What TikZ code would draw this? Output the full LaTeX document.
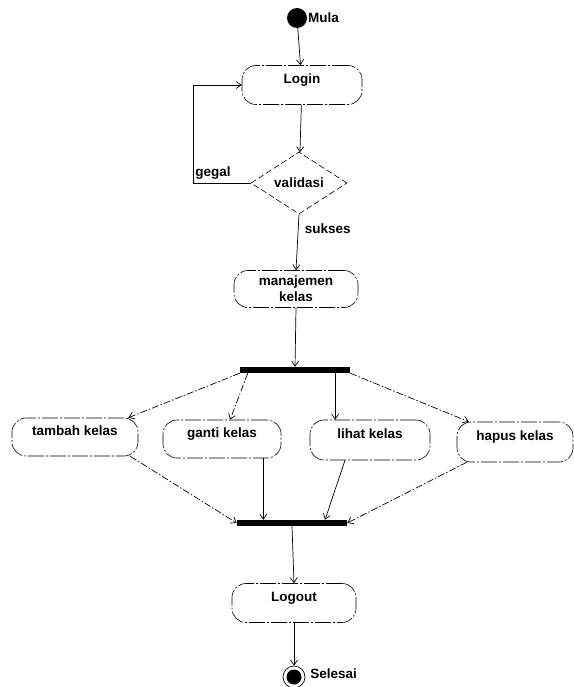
\documentclass[tikz,border=0pt]{standalone}
\usepackage{fontspec}
\setmainfont{Liberation Sans}
\usetikzlibrary{shapes.geometric,arrows.meta}
\tikzset{
  state/.style={draw, rounded corners=14pt, inner sep=0.75pt, line width=0.6pt,
    dash pattern=on 16pt off 2pt on 2pt off 2pt, align=center,
    font=\fontsize{13.5}{16}\selectfont\bfseries},
  uptext/.style={text depth=13pt},
  bar/.style={fill=black, draw=none, inner sep=0pt},
  arr/.style={-{Straight Barb[length=5pt,width=7pt]}, line width=0.7pt},
  darr/.style={arr, dash pattern=on 7pt off 2pt on 1.5pt off 2pt},
  lbl/.style={inner sep=0.75pt, font=\fontsize{13.5}{16}\selectfont\bfseries},
}
\begin{document}
\begin{tikzpicture}[x=1pt,y=-1pt]
\useasboundingbox (0,0) rectangle (573,687);

% Start and end
\node[circle, fill=black, minimum size=20pt, inner sep=0pt] (mula) at (297,18) {};
\node[lbl, anchor=west] (mulatxt) at (mula.east) {Mula};

% States
\node[state, uptext, minimum width=120pt, minimum height=39pt] (login) at (302,85) {Login};
\node[draw, diamond, minimum width=96pt, minimum height=62pt, inner sep=0pt, line width=0.6pt,
  dash pattern=on 6pt off 3pt, font=\fontsize{13.5}{16}\selectfont\bfseries] (validasi) at (299,183) {validasi};
\node[state, minimum width=124pt, minimum height=37pt] (manajemen) at (296,289) {manajemen\\kelas};

% Fork bar
\node[bar, minimum width=110pt, minimum height=6pt] (fork) at (295,370) {};

\node[state, uptext, minimum width=126pt, minimum height=38pt] (tambah) at (75,437) {tambah kelas};
\node[state, uptext, minimum width=118pt, minimum height=38pt] (ganti) at (222,439) {ganti kelas};
\node[state, uptext, minimum width=120pt, minimum height=40pt] (lihat) at (370,440) {lihat kelas};
\node[state, uptext, minimum width=116pt, minimum height=40pt] (hapus) at (515,442) {hapus kelas};

% Join bar
\node[bar, minimum width=110pt, minimum height=6pt] (join) at (292,523) {};

\node[state, uptext, minimum width=124pt, minimum height=39pt] (logout) at (294,603) {Logout};

\node[circle, draw, minimum size=22pt, inner sep=0pt, line width=0.7pt] (selesai) at (294,677) {};
\fill (selesai.center) circle (7.5pt);
\node[lbl, anchor=west] (selesaitxt) at ([xshift=4pt,yshift=3pt]selesai.east) {Selesai};

% Connectors
\draw[arr] (mula) -- (login);
\draw[arr] (login) -- (validasi);
\coordinate (gegalturn) at (193,183);
\draw[arr] (validasi.west) -- (gegalturn) |- (login.west);
\node[lbl, anchor=south] (gegal) at (213,180) {gegal};
\draw[arr] (validasi.south) -- (manajemen.north);
\node[lbl, anchor=west] (sukses) at (304,229) {sukses};
\draw[arr] (manajemen.south) -- (fork.north);

\draw[darr] (fork.south west) -- ([xshift=-10pt]tambah.north east);
\draw[darr] ([xshift=8pt]fork.south west) -- ([xshift=8pt]ganti.north);
\draw[arr] ([xshift=-15pt]fork.south east) -- ([xshift=-15pt]fork.south east |- lihat.north);
\draw[darr] (fork.south east) -- ([xshift=12pt]hapus.north west);

\draw[darr] ([xshift=-8pt]tambah.south east) -- (join.west);
\draw[arr] ([xshift=-18pt]ganti.south east) -- ([xshift=-18pt]ganti.south east |- join.north);
\draw[arr] ([xshift=-25pt]lihat.south) -- ([xshift=33pt]join.north);
\draw[darr] ([xshift=10pt]hapus.south west) -- (join.east);

\draw[arr] (join.south) -- (logout.north);
\draw[arr] (logout.south) -- (selesai.north);

\end{tikzpicture}
\end{document}
